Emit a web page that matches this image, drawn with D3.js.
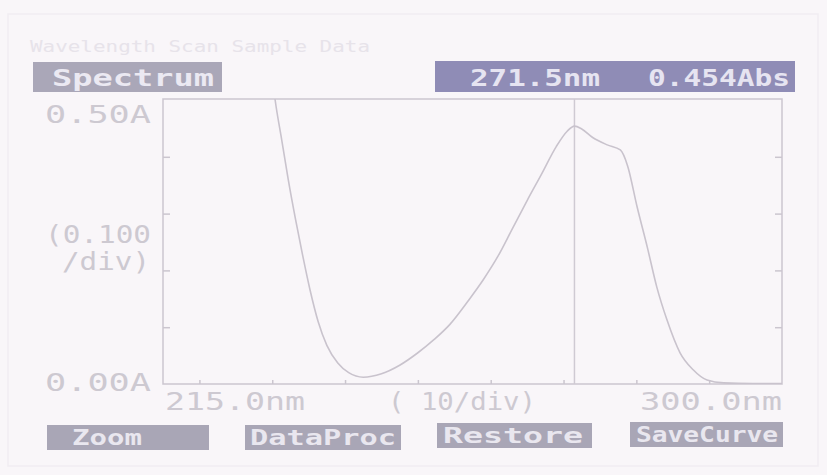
<!DOCTYPE html>
<html>
<head>
<meta charset="utf-8">
<script src="https://cdn.jsdelivr.net/npm/d3@7/dist/d3.min.js"></script>
<style>
  html, body { margin: 0; padding: 0; background: #f9f6f9; }
  svg { display: block; }
</style>
</head>
<body>
<svg id="chart" width="827" height="475"></svg>
<script>
// Absorbance scan, 215–300 nm
const wavelengths = [229.5, 230.4, 231.3, 232.2, 233.2, 234.2, 235.2, 236.3, 237.5, 239.0, 240.5, 242.5,
  245.0, 247.5, 250.0, 252.2, 254.4, 257.0, 259.0, 261.0, 263.0, 265.0, 267.0, 269.0, 270.5, 271.5, 272.5,
  274.0, 276.0, 277.8, 278.8, 280.1, 281.5, 282.8, 284.2, 286.0, 287.8, 289.7, 292.0, 296.0, 300.0];
const absorbance = [0.60, 0.50, 0.43, 0.36, 0.29, 0.225, 0.165, 0.110, 0.068, 0.037, 0.020, 0.012,
  0.018, 0.033, 0.055, 0.078, 0.105, 0.148, 0.184, 0.225, 0.274, 0.323, 0.370, 0.418, 0.445, 0.454, 0.449,
  0.434, 0.421, 0.412, 0.384, 0.312, 0.241, 0.171, 0.113, 0.055, 0.025, 0.007, 0.002, 0.001, 0.001];

const xDomain = [215.0, 300.0];
const yDomain = [0.00, 0.50];
const yTicks = [0.1, 0.2, 0.3, 0.4];
const xTicks = [220, 230, 240, 250, 260, 270, 280, 290];

const cursorWavelength = 271.5;
const cursorAbsorbance = 0.454;

const headerTitle = "Spectrum";
const headerCursorWl = "271.5nm";
const headerCursorAbs = "0.454Abs";
const captionText = "Wavelength Scan  Sample Data";
const yLabelTop = "0.50A";
const yLabelDiv1 = "(0.100";
const yLabelDiv2 = "/div)";
const yLabelBottom = "0.00A";
const xLabelLeft = "215.0nm";
const xLabelDiv = "( 10/div)";
const xLabelRight = "300.0nm";
const buttons = ["Zoom", "DataProc", "Restore", "SaveCurve"];

const svg = d3.select("#chart");
const plot = { left: 163, top: 99, right: 782, bottom: 384 };

const x = d3.scaleLinear().domain(xDomain).range([plot.left, plot.right]);
const y = d3.scaleLinear().domain(yDomain).range([plot.bottom, plot.bottom - 0.5 * 568]);

const lcdFont = "'DejaVu Sans Mono', monospace";
const faint = "#cbc6cf";

// screen bezel
svg.append("rect").attr("x", 8).attr("y", 14).attr("width", 810).attr("height", 452)
  .attr("fill", "none").attr("stroke", "#f1edf2").attr("stroke-width", 1.5);

// caption line
svg.append("text").attr("x", 30).attr("y", 52).text(captionText)
  .attr("font-family", lcdFont).attr("font-size", 15).attr("fill", "#e7e3ea")
  .attr("textLength", 340).attr("lengthAdjust", "spacingAndGlyphs");

// title box
svg.append("rect").attr("x", 33).attr("y", 62).attr("width", 189).attr("height", 30).attr("fill", "#aaa7b8");
svg.append("text").attr("x", 52).attr("y", 86).text(headerTitle)
  .attr("font-family", lcdFont).attr("font-weight", "bold").attr("font-size", 23)
  .attr("fill", "#ebe9f2").attr("textLength", 162).attr("lengthAdjust", "spacingAndGlyphs");

// cursor readout box
svg.append("rect").attr("x", 435).attr("y", 61).attr("width", 360).attr("height", 31).attr("fill", "#8f8cb6");
svg.append("text").attr("x", 470).attr("y", 86).text(headerCursorWl)
  .attr("font-family", lcdFont).attr("font-weight", "bold").attr("font-size", 23)
  .attr("fill", "#e6e4f1").attr("textLength", 130).attr("lengthAdjust", "spacingAndGlyphs");
svg.append("text").attr("x", 648).attr("y", 86).text(headerCursorAbs)
  .attr("font-family", lcdFont).attr("font-weight", "bold").attr("font-size", 23)
  .attr("fill", "#e6e4f1").attr("textLength", 142).attr("lengthAdjust", "spacingAndGlyphs");

// plot frame
svg.append("rect").attr("x", plot.left).attr("y", plot.top)
  .attr("width", plot.right - plot.left).attr("height", plot.bottom - plot.top)
  .attr("fill", "none").attr("stroke", faint).attr("stroke-width", 1.5);

// axis ticks
svg.append("g").attr("transform", `translate(${plot.left},0)`)
  .call(d3.axisRight(y).tickValues(yTicks).tickSize(7).tickFormat(""))
  .call(g => g.select(".domain").remove())
  .call(g => g.selectAll("line").attr("stroke", faint).attr("stroke-width", 1.5));
svg.append("g").attr("transform", `translate(${plot.right},0)`)
  .call(d3.axisLeft(y).tickValues(yTicks).tickSize(7).tickFormat(""))
  .call(g => g.select(".domain").remove())
  .call(g => g.selectAll("line").attr("stroke", faint).attr("stroke-width", 1.5));
svg.append("g").attr("transform", `translate(0,${plot.bottom})`)
  .call(d3.axisTop(x).tickValues(xTicks).tickSize(4).tickFormat(""))
  .call(g => g.select(".domain").remove())
  .call(g => g.selectAll("line").attr("stroke", faint).attr("stroke-width", 1.5));

// axis labels
function lbl(tx, ty, s, tw) {
  svg.append("text").attr("x", tx).attr("y", ty).text(s)
    .attr("font-family", lcdFont).attr("font-size", 24).attr("fill", "#cdc9d1")
    .attr("textLength", tw).attr("lengthAdjust", "spacingAndGlyphs");
}
lbl(45, 123, yLabelTop, 106);
lbl(45, 243, yLabelDiv1, 106);
lbl(62, 270, yLabelDiv2, 88);
lbl(45, 391, yLabelBottom, 106);
lbl(165, 410, xLabelLeft, 140);
lbl(388, 410, xLabelDiv, 148);
lbl(640, 410, xLabelRight, 142);

// cursor line
svg.append("line").attr("x1", x(cursorWavelength)).attr("x2", x(cursorWavelength))
  .attr("y1", plot.top).attr("y2", plot.bottom)
  .attr("stroke", "#cfcad3").attr("stroke-width", 1.5);

// spectrum curve
svg.append("clipPath").attr("id", "plotClip").append("rect")
  .attr("x", plot.left).attr("y", plot.top)
  .attr("width", plot.right - plot.left).attr("height", plot.bottom - plot.top);
const data = wavelengths.map((w, i) => ({ w, a: absorbance[i] }));
svg.append("path").datum(data).attr("clip-path", "url(#plotClip)")
  .attr("d", d3.line().x(d => x(d.w)).y(d => y(d.a)).curve(d3.curveMonotoneX))
  .attr("fill", "none").attr("stroke", "#c9c3cd").attr("stroke-width", 1.6);

// soft key buttons
const btnGeom = [[47, 425, 162, 25, 72, 70], [245, 425, 156, 25, 250, 146], [437, 423, 155, 25, 443, 140], [630, 422, 153, 25, 636, 142]];
buttons.forEach((b, i) => {
  const [bx, by, bw, bh, tx, tw] = btnGeom[i];
  svg.append("rect").attr("x", bx).attr("y", by).attr("width", bw).attr("height", bh).attr("fill", "#a9a6b6");
  svg.append("text").attr("x", tx).attr("y", by + bh - 5).text(b)
    .attr("font-family", lcdFont).attr("font-weight", "bold").attr("font-size", 22)
    .attr("fill", "#e9e7ef").attr("textLength", tw).attr("lengthAdjust", "spacingAndGlyphs");
});
</script>
</body>
</html>
